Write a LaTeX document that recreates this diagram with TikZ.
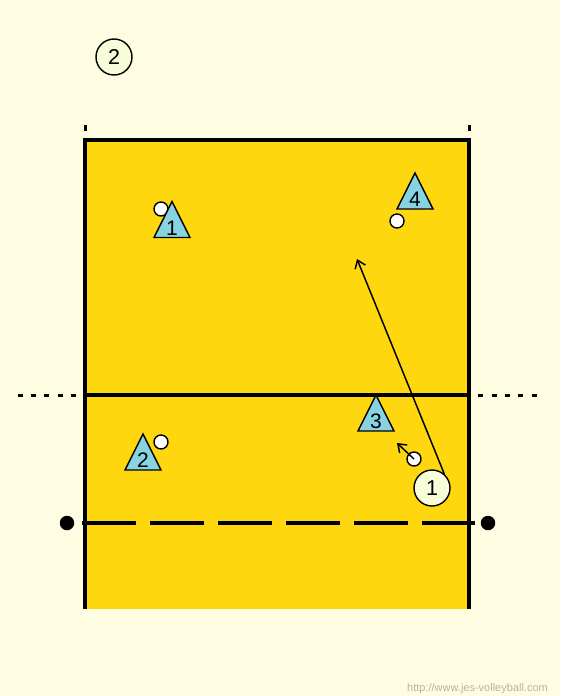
\documentclass[tikz,border=0pt]{standalone}
\usepackage{fontspec}
\setmainfont{Liberation Sans}
\usetikzlibrary{arrows.meta,positioning,calc}
\definecolor{paper}{HTML}{FFFDE1}
\definecolor{court}{HTML}{FFD70F}
\definecolor{playerblue}{HTML}{88D3E1}
\definecolor{marker}{HTML}{F7FCD9}
\definecolor{webgrey}{HTML}{B4B3A4}

\begin{document}
\begin{tikzpicture}[
        x=1pt, y=-1pt,
        courtline/.style={line width=3.2pt},
        dotline/.style={line width=3pt, dash pattern=on 5pt off 8.3pt},
        netline/.style={line width=4.2pt, dash pattern=on 54pt off 14pt},
        post/.style={circle, fill=black, minimum size=14.5pt, inner sep=0pt},
        player/.style={draw, line width=1.4pt, fill=playerblue},
        ball/.style={circle, draw, line width=1.4pt, fill=white, minimum size=14pt, inner sep=0pt},
        badge/.style={circle, draw, line width=1.4pt, fill=marker, minimum size=36pt, inner sep=0pt, font=\fontsize{21.5}{21.5}\selectfont},
        digit/.style={inner sep=0pt, font=\fontsize{21}{21}\selectfont},
        move/.style={-{Straight Barb[length=7.5pt,width=11pt]}, line width=1.5pt}
    ]
        \useasboundingbox[fill=paper] (0,0) rectangle (560,696);

        \fill[court] (85,140) rectangle (469,609);
        \draw[courtline] (85,609) -- (85,140) -- (469,140) -- (469,609);
        \draw[courtline] (85,395) -- (469,395);
        \fill (83.5,125) rectangle (86.5,131);
        \fill (467.5,125) rectangle (470.5,131);
        \draw[dotline] (17.7,395) -- (76,395);
        \draw[dotline] (478.3,395) -- (540,395);

        \draw[netline] (82,523) -- (475,523);
        \node[post] (postL) at (67,523) {};
        \node[post] (postR) at (488,523) {};

        \node[badge] (rot) at (114,57) {2};

        \node[ball] (b1) at (161,209) {};
        \node[ball] (b2) at (161,442) {};
        \node[ball] (b3) at (414,459) {};
        \node[ball] (b4) at (397,221) {};

        \foreach \n/\x/\y in {1/172/237.5, 2/143/470, 3/376/431, 4/415/209} {
            \draw[player] (\x-18,\y) -- (\x,\y-36) -- (\x+18,\y) -- cycle;
            \node[digit] (p\n) at (\x,\y-9.5) {\n};
        }

        \node[badge] (s1) at (432,488) {1};
        \coordinate (aim) at (357,259);
        \coordinate (pass) at (397,443);
        \draw[move] (s1.49) -- (aim);
        \draw[move] (b3.center) -- (pass);

        \node[anchor=base east, text=webgrey, inner sep=0pt, font=\fontsize{11}{11}\selectfont] (site) at (548,691) {http://www.jes-volleyball.com};
    \end{tikzpicture}
\end{document}
